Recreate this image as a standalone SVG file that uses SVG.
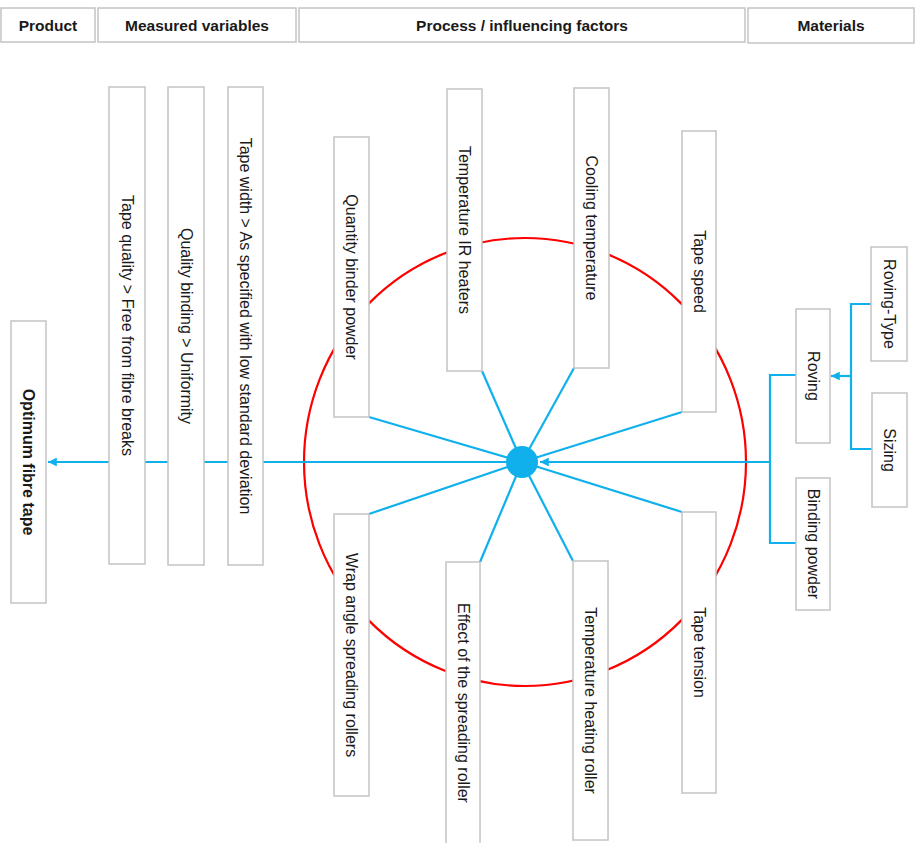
<svg xmlns="http://www.w3.org/2000/svg" width="918" height="843" viewBox="0 0 918 843">
<defs>
<style>
.box{fill:#fff;stroke:#c4c4c4;stroke-width:1.5}
.hd{font-family:"Liberation Sans",Arial,sans-serif;font-size:15.5px;font-weight:bold;fill:#1a1a1a;text-anchor:middle;dominant-baseline:central}
.t{font-family:"Liberation Sans",Arial,sans-serif;font-size:16px;fill:#1a1a1a;text-anchor:middle;dominant-baseline:central}
.tb{font-weight:bold}
.c{fill:none;stroke:#0fb0ec;stroke-width:2.2}
</style>
<marker id="ah" viewBox="0 0 10 10" refX="10" refY="5" markerWidth="4" markerHeight="4" orient="auto" markerUnits="strokeWidth">
<path d="M0,0 L10,5 L0,10 z" fill="#0fb0ec"/>
</marker>
</defs>
<rect width="918" height="843" fill="#fff"/>
<g id="headers">
<g id="h-product"><rect class="box" x="1" y="8" width="94" height="34"/><text class="hd" x="48" y="25">Product</text></g>
<g id="h-measured"><rect class="box" x="98" y="8" width="198" height="34"/><text class="hd" x="197" y="25">Measured variables</text></g>
<g id="h-process"><rect class="box" x="299" y="8" width="446" height="34"/><text class="hd" x="522" y="25">Process / influencing factors</text></g>
<g id="h-materials"><rect class="box" x="748" y="8" width="166" height="35"/><text class="hd" x="831" y="25">Materials</text></g>
</g>
<ellipse id="ring" cx="525" cy="462" rx="221" ry="224" fill="none" stroke="#ff0000" stroke-width="2.2"/>
<g id="connectors">
<line class="c" x1="522" y1="462" x2="48" y2="462" marker-end="url(#ah)"/>
<line class="c" x1="770" y1="462" x2="540" y2="462" marker-end="url(#ah)"/>
<polyline class="c" points="796,375 770,375 770,543 796,543"/>
<polyline class="c" points="871,304 851,304 851,449 872,449"/>
<line class="c" x1="851" y1="376" x2="831" y2="376" marker-end="url(#ah)"/>
<line class="c" x1="522" y1="462" x2="369" y2="417"/>
<line class="c" x1="522" y1="462" x2="482" y2="371"/>
<line class="c" x1="522" y1="462" x2="574" y2="368"/>
<line class="c" x1="522" y1="462" x2="682" y2="412"/>
<line class="c" x1="522" y1="462" x2="369" y2="514"/>
<line class="c" x1="522" y1="462" x2="480" y2="562"/>
<line class="c" x1="522" y1="462" x2="573" y2="561"/>
<line class="c" x1="522" y1="462" x2="682" y2="512"/>
<circle cx="522" cy="462" r="16" fill="#0fb0ec"/>
</g>
<g id="product"><rect class="box" x="11" y="321" width="35" height="282"/><text class="t tb" transform="translate(28.5,462) rotate(90)">Optimum fibre tape</text></g>
<g id="tape-quality"><rect class="box" x="109" y="87" width="36" height="477"/><text class="t" transform="translate(127,325.5) rotate(90)">Tape quality &gt; Free from fibre breaks</text></g>
<g id="quality-binding"><rect class="box" x="168" y="87" width="36" height="478"/><text class="t" transform="translate(186,326) rotate(90)">Quality binding &gt; Uniformity</text></g>
<g id="tape-width"><rect class="box" x="228" y="87" width="35" height="478"/><text class="t" transform="translate(245.5,326) rotate(90)">Tape width &gt; As specified with low standard deviation</text></g>
<g id="quantity-binder"><rect class="box" x="334" y="137" width="35" height="280"/><text class="t" transform="translate(351.5,277) rotate(90)">Quantity binder powder</text></g>
<g id="temp-ir"><rect class="box" x="447" y="89" width="35" height="282"/><text class="t" transform="translate(464.5,230) rotate(90)">Temperature IR heaters</text></g>
<g id="cooling"><rect class="box" x="574" y="88" width="35" height="280"/><text class="t" transform="translate(591.5,228) rotate(90)">Cooling temperature</text></g>
<g id="tape-speed"><rect class="box" x="682" y="131" width="34" height="281"/><text class="t" transform="translate(699,271.5) rotate(90)">Tape speed</text></g>
<g id="wrap-angle"><rect class="box" x="334" y="514" width="35" height="282"/><text class="t" transform="translate(351.5,655) rotate(90)">Wrap angle spreading rollers</text></g>
<g id="effect-roller"><rect class="box" x="446" y="562" width="34" height="282"/><text class="t" transform="translate(463,703) rotate(90)">Effect of the spreading roller</text></g>
<g id="temp-heating"><rect class="box" x="573" y="561" width="35" height="279"/><text class="t" transform="translate(590.5,700.5) rotate(90)">Temperature heating roller</text></g>
<g id="tape-tension"><rect class="box" x="682" y="512" width="34" height="281"/><text class="t" transform="translate(699,652.5) rotate(90)">Tape tension</text></g>
<g id="roving"><rect class="box" x="796" y="309" width="34" height="134"/><text class="t" transform="translate(813,376) rotate(90)">Roving</text></g>
<g id="binding-powder"><rect class="box" x="796" y="478" width="34" height="132"/><text class="t" transform="translate(813,544) rotate(90)">Binding powder</text></g>
<g id="roving-type"><rect class="box" x="871" y="247" width="36" height="114"/><text class="t" transform="translate(889,304) rotate(90)">Roving-Type</text></g>
<g id="sizing"><rect class="box" x="872" y="393" width="35" height="114"/><text class="t" transform="translate(889.5,450) rotate(90)">Sizing</text></g>
</svg>
